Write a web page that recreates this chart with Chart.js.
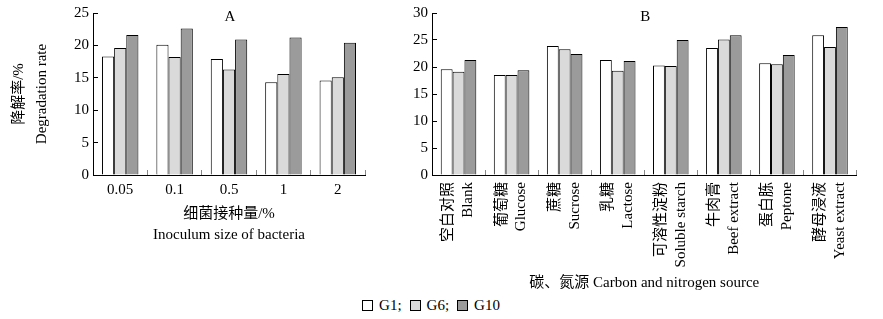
<!DOCTYPE html>
<html>
<head>
<meta charset="utf-8">
<script src="https://cdn.jsdelivr.net/npm/chart.js@4.4.1/dist/chart.umd.min.js"></script>
<style>
    body { margin: 0; background: #fff; }
    #wrap { position: relative; width: 883px; height: 319px; overflow: hidden; }
    .panel { position: absolute; top: 0; }
    #panelA { left: 0; width: 375px; height: 250px; }
    #panelB { left: 380px; width: 503px; height: 296px; }
    #legend {
        position: absolute; top: 297px; left: 0; width: 862px;
        text-align: center; font: 15px 'Liberation Serif', serif; color: #000;
    }
    #legend span { margin: 0 4px; }
    #legend i {
        display: inline-block; width: 9px; height: 9px; border: 1px solid #000;
        margin-right: 6px; vertical-align: -1px;
    }
</style>
</head>
<body>
<div id="wrap">
    <div class="panel" id="panelA"><canvas id="chartA"></canvas></div>
    <div class="panel" id="panelB"><canvas id="chartB"></canvas></div>
    <div id="legend"></div>
</div>
<script>
// Panel A - inoculum size
const inoculumLabels = ["0.05", "0.1", "0.5", "1", "2"];
const inoculumG1 = [18.3, 20.1, 17.9, 14.3, 14.6];
const inoculumG6 = [19.6, 18.2, 16.3, 15.6, 15.1];
const inoculumG10 = [21.6, 22.6, 20.9, 21.2, 20.4];

// Panel B - carbon and nitrogen source
const sourceLabels = [
    ["空白对照", "Blank"],
    ["葡萄糖", "Glucose"],
    ["蔗糖", "Sucrose"],
    ["乳糖", "Lactose"],
    ["可溶性淀粉", "Soluble starch"],
    ["牛肉膏", "Beef extract"],
    ["蛋白胨", "Peptone"],
    ["酵母浸液", "Yeast extract"]
];
const sourceG1 = [19.6, 18.5, 23.9, 21.3, 20.3, 23.5, 20.7, 25.9];
const sourceG6 = [19.1, 18.5, 23.3, 19.3, 20.2, 25.1, 20.5, 23.7];
const sourceG10 = [21.3, 19.4, 22.4, 21.1, 25.0, 25.9, 22.2, 27.4];

const seriesNames = ["G1", "G6", "G10"];
const seriesColors = ["#ffffff", "#dadada", "#9b9b9b"];

const fontFamily = "'Liberation Serif', 'Noto Sans CJK SC', serif";

// panel letter drawn at the top middle of the plot area
const panelTitle = {
    id: "panelTitle",
    afterDraw(chart, args, opts) {
        const { ctx, chartArea } = chart;
        ctx.save();
        ctx.font = `15px ${fontFamily}`;
        ctx.fillStyle = "#000";
        ctx.textAlign = "center";
        ctx.textBaseline = "middle";
        ctx.fillText(opts.text, (chartArea.left + chartArea.right) / 2 + 1, chartArea.top + 4);
        ctx.restore();
    }
};

function makeDatasets(values) {
    return values.map((data, i) => ({
        label: seriesNames[i],
        data: data,
        backgroundColor: seriesColors[i],
        borderColor: "#000",
        borderWidth: 1,
        barPercentage: 1,
        categoryPercentage: 0.67
    }));
}

function makeChart(id, cfg) {
    return new Chart(document.getElementById(id), {
        type: "bar",
        data: {
            labels: cfg.labels,
            datasets: makeDatasets(cfg.values)
        },
        options: {
            responsive: true,
            maintainAspectRatio: false,
            animation: false,
            layout: { padding: { top: 13, right: cfg.padRight, left: 0, bottom: 0 } },
            plugins: {
                legend: { display: false },
                tooltip: { enabled: false },
                panelTitle: { text: cfg.letter }
            },
            scales: {
                x: {
                    afterFit: s => { s.height = cfg.xHeight; },
                    grid: { drawOnChartArea: false, tickLength: -5, color: "#888", offset: true },
                    border: { color: "#000", width: 1 },
                    ticks: {
                        color: "#000",
                        font: { family: fontFamily, size: 15, lineHeight: 1.33 },
                        padding: cfg.xPad,
                        autoSkip: false,
                        minRotation: cfg.rotate,
                        maxRotation: cfg.rotate,
                        labelOffset: cfg.labelOffset
                    },
                    title: {
                        display: true,
                        text: cfg.xTitle,
                        color: "#000",
                        font: { family: fontFamily, size: 15, lineHeight: 1.4 },
                        padding: { top: 0, bottom: cfg.xTitlePad }
                    }
                },
                y: {
                    min: 0,
                    max: cfg.yMax,
                    afterFit: s => {
                        s.width = cfg.yWidth;
                        s.paddingTop = 0;
                        s.paddingBottom = 0;
                    },
                    grid: { drawOnChartArea: false, tickLength: -5, color: "#000" },
                    border: { color: "#000", width: 1 },
                    ticks: {
                        stepSize: 5,
                        color: "#000",
                        font: { family: fontFamily, size: 15 },
                        padding: 9
                    },
                    title: {
                        display: cfg.yTitle.length > 0,
                        text: cfg.yTitle,
                        color: "#000",
                        font: { family: fontFamily, size: 15, lineHeight: 1.5 },
                        padding: { top: 8, bottom: 0 }
                    }
                }
            }
        },
        plugins: [panelTitle]
    });
}

document.addEventListener("DOMContentLoaded", () => {
    makeChart("chartA", {
        letter: "A",
        labels: inoculumLabels,
        values: [inoculumG1, inoculumG6, inoculumG10],
        yMax: 25,
        yWidth: 93,
        padRight: 10,
        xHeight: 75,
        xPad: 10,
        rotate: 0,
        labelOffset: 0,
        xTitle: ["细菌接种量/%", "Inoculum size of bacteria"],
        xTitlePad: 4,
        yTitle: ["降解率/%", "Degradation rate"]
    });

    makeChart("chartB", {
        letter: "B",
        labels: sourceLabels,
        values: [sourceG1, sourceG6, sourceG10],
        yMax: 30,
        yWidth: 52,
        padRight: 18,
        xHeight: 121,
        xPad: 12,
        rotate: 90,
        labelOffset: -10,
        xTitle: "碳、氮源 Carbon and nitrogen source",
        xTitlePad: 2,
        yTitle: []
    });

    const legend = document.getElementById("legend");
    legend.innerHTML = seriesNames.map((name, i) =>
        `<span><i style="background:${seriesColors[i]}"></i>${name}${i < seriesNames.length - 1 ? ";" : ""}</span>`
    ).join("");
});
</script>
</body>
</html>
